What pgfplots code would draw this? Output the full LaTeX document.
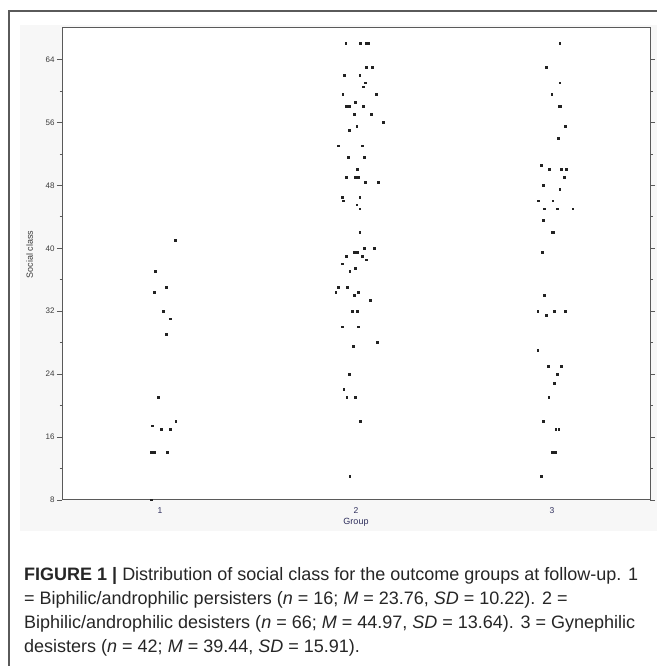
\documentclass[border=0pt]{standalone}
\usepackage{fontspec}
\setmainfont{Liberation Sans}
\usepackage{pgfplots}
\pgfplotsset{compat=1.18}

\definecolor{panel}{HTML}{F7F7F7}
\definecolor{frame}{HTML}{5A5A5A}
\definecolor{ticktxt}{HTML}{3A3A3A}
\definecolor{xticktxt}{HTML}{2E2E5C}
\definecolor{dot}{HTML}{222222}

\begin{document}
\begin{tikzpicture}[x=1pt,y=1pt]
\path[use as bounding box] (0,0) rectangle (657,666);
\fill[white] (0,0) rectangle (657,666);
% figure frame and grey panel
\draw[frame, line width=1.1pt] (9,0) -- (9,655) -- (657,655);
\fill[panel] (20,135) rectangle (657,641);

\begin{axis}[
  at={(62pt,166pt)}, anchor=south west,
  scale only axis,
  width=588pt, height=472pt,
  xmin=0.5, xmax=3.5,
  ymin=8, ymax=68,
  xtick={1,2,3},
  ytick={8,16,24,32,40,48,56,64},
  minor ytick={12,20,28,36,44,52,60},
  tick align=outside,
  major tick length=5pt,
  minor tick length=2.5pt,
  xtick style={draw=none},
  ytick style={draw=frame, line width=0.6pt},
  axis line style={draw=frame, line width=1pt},
  axis background/.style={fill=white},
  /pgf/number format/assume math mode=true,
  xticklabel style={font=\fontsize{8.5}{9}\selectfont, text=xticktxt, yshift=1pt},
  yticklabel style={font=\fontsize{8}{9}\selectfont, text=ticktxt, xshift=1pt},
  xlabel={Group},
  ylabel={Social class},
  xlabel style={font=\fontsize{9}{10}\selectfont, text=xticktxt, at={(axis description cs:0.5,-0.047)}, anchor=center},
  ylabel style={font=\fontsize{9}{10}\selectfont, text=ticktxt, at={(axis description cs:-0.055,0.52)}, anchor=center},
  clip=false
]
% group 1: biphilic/androphilic persisters
\addplot[only marks, mark=square*, mark size=0.9pt, dot, mark options={line width=0pt}] coordinates {
(1.078,41) (0.976,37) (1.032,35) (0.971,34.4) (1.017,32) (1.053,31)
(1.032,29) (0.993,21) (1.082,18) (0.963,17.4) (1.007,17) (1.053,17)
(0.958,14) (0.973,14) (1.037,14) (0.958,8)
};
% group 2: biphilic/androphilic desisters
\addplot[only marks, mark=square*, mark size=0.9pt, dot, mark options={line width=0pt}] coordinates {
(1.949,66) (2.024,66) (2.055,66) (2.063,66) (2.053,63) (2.085,63)
(1.942,62) (2.020,62) (2.047,61) (2.037,60.5) (1.934,59.5) (2.104,59.5)
(1.996,58.5) (1.949,58) (1.959,58) (1.969,58) (2.037,58) (1.993,57)
(2.080,57) (2.139,56) (2.005,55.5) (1.966,55) (1.910,53) (2.032,53)
(1.961,51.5) (2.044,51.5) (2.009,50) (1.951,49) (1.998,49) (2.012,49)
(2.047,48.4) (2.114,48.4) (1.930,46.5) (2.020,46.5) (1.937,46) (2.005,45.5)
(2.020,45) (2.020,42) (2.044,40) (2.093,40) (1.991,39.5) (2.007,39.5)
(1.951,39) (2.032,39) (2.053,38.5) (1.930,38) (1.996,37.4) (1.969,37)
(1.910,35) (1.958,35) (1.898,34.4) (2.014,34.4) (1.993,34) (2.073,33.4)
(1.981,32) (2.009,32) (1.930,30) (2.014,30) (2.109,28) (1.986,27.5)
(1.966,24) (1.939,22) (1.954,21) (1.996,21) (2.022,18) (1.969,11)
};
% group 3: gynephilic desisters
\addplot[only marks, mark=square*, mark size=0.9pt, dot, mark options={line width=0pt}] coordinates {
(3.041,66) (2.973,63) (3.041,61) (3.000,59.5) (3.037,58) (3.046,58)
(3.068,55.5) (3.032,54) (2.945,50.5) (2.988,50) (3.047,50) (3.073,50)
(3.065,49) (2.956,48) (3.041,47.5) (2.930,46) (3.005,46) (2.961,45)
(3.027,45) (3.107,45) (2.956,43.5) (3.002,42) (3.010,42) (2.951,39.5)
(2.961,34) (2.929,32) (3.012,32) (3.068,32) (2.971,31.5) (2.929,27)
(2.981,25) (3.047,25) (3.027,24) (3.012,22.8) (2.985,21) (2.956,18)
(3.020,17) (3.036,17) (3.002,14) (3.010,14) (3.020,14) (2.945,11)
};
\end{axis}

% caption
\begin{scope}[every node/.style={anchor=base west, inner sep=0pt, font=\fontsize{18}{24}\selectfont, text=black!85}]
\node at (24,85) {\textbf{FIGURE 1 |} Distribution of social class for the outcome groups at follow-up. 1};
\node at (24,61) {= Biphilic/androphilic persisters (\textit{n} = 16; \textit{M} = 23.76, \textit{SD} = 10.22). 2 =};
\node at (24,37) {Biphilic/androphilic desisters (\textit{n} = 66; \textit{M} = 44.97, \textit{SD} = 13.64). 3 = Gynephilic};
\node at (24,13) {desisters (\textit{n} = 42; \textit{M} = 39.44, \textit{SD} = 15.91).};
\end{scope}
\end{tikzpicture}
\end{document}
